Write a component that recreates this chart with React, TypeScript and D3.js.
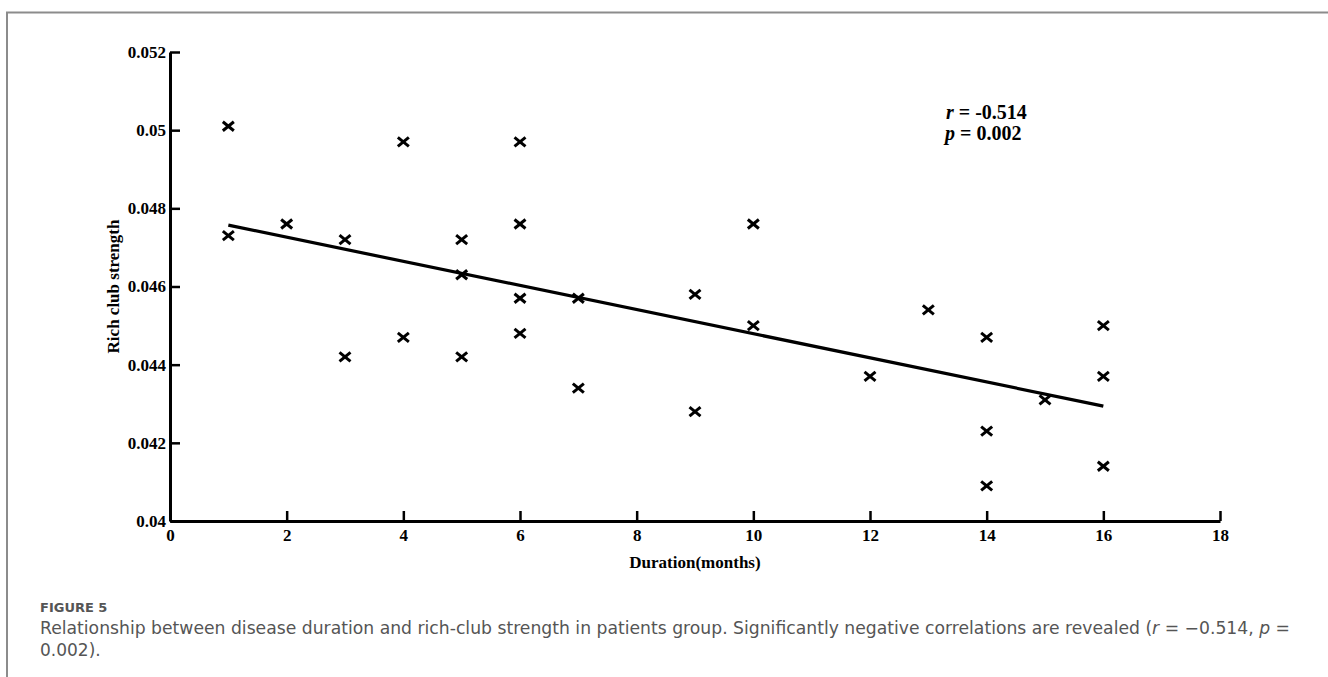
import React, { useEffect, useRef } from "react";
import * as d3 from "d3";

// months since onset, one entry per patient
const duration = [1, 1, 2, 3, 3, 4, 4, 5, 5, 5, 6, 6, 6, 6, 7, 7, 9, 9, 10, 10, 12, 13, 14, 14, 14, 15, 16, 16, 16];
const strength = [
  0.0501, 0.0473, 0.0476, 0.0472, 0.0442, 0.0497, 0.0447, 0.0472, 0.0463, 0.0442,
  0.0497, 0.0476, 0.0457, 0.0448, 0.0457, 0.0434, 0.0458, 0.0428, 0.0476, 0.045,
  0.0437, 0.0454, 0.0447, 0.0423, 0.0409, 0.0431, 0.045, 0.0437, 0.0414,
];
// fitted line
const fitX = [1, 16];
const fitY = [0.04757, 0.04294];

const xTicks = [0, 2, 4, 6, 8, 10, 12, 14, 16, 18];
const yTicks = [0.04, 0.042, 0.044, 0.046, 0.048, 0.05, 0.052];
const yTickLabels = ["0.04", "0.042", "0.044", "0.046", "0.048", "0.05", "0.052"];

const serif = "'Liberation Serif', 'Times New Roman', serif";
const sans = "'DejaVu Sans', 'Open Sans', sans-serif";

export default function App() {
  const xAxisRef = useRef<SVGGElement>(null);
  const yAxisRef = useRef<SVGGElement>(null);

  const x = d3.scaleLinear().domain([0, 18]).range([170, 1220]);
  const y = d3.scaleLinear().domain([0.04, 0.052]).range([521, 52]);

  useEffect(() => {
    const xa = d3
      .axisBottom(x)
      .tickValues(xTicks)
      .tickFormat(d3.format("d"))
      .tickSizeInner(-10)
      .tickSizeOuter(0)
      .tickPadding(8);
    const ya = d3
      .axisLeft(y)
      .tickValues(yTicks)
      .tickFormat((d, i) => yTickLabels[i])
      .tickSizeInner(-10)
      .tickSizeOuter(0)
      .tickPadding(4);

    const gx = d3.select(xAxisRef.current).call(xa);
    const gy = d3.select(yAxisRef.current).call(ya);
    [gx, gy].forEach(g => {
      g.selectAll("path").attr("stroke", "#000").attr("stroke-width", 3);
      g.selectAll("line").attr("stroke", "#000").attr("stroke-width", 2.5);
      g.selectAll("text")
        .attr("fill", "#000")
        .style("font-family", serif)
        .style("font-weight", "bold")
        .style("font-size", "17px");
    });
  }, []);

  const line = d3
    .line<number>()
    .x(d => x(d))
    .y((d, i) => y(fitY[i]));

  return (
    <svg width={1328} height={677} style={{ position: "absolute", left: 0, top: 0, background: "#fff" }}>
      <path d="M7,677V12.5H1328" fill="none" stroke="#8c8c8c" strokeWidth={2} />

      <g ref={yAxisRef} transform={`translate(${x(0)},0)`} />
      <g ref={xAxisRef} transform={`translate(0,${y(0.04)})`} />

      <path d={line(fitX) || ""} fill="none" stroke="#000" strokeWidth={3.2} />

      <g stroke="#000" strokeWidth={3}>
        {duration.map((d, i) => {
          const cx = x(d);
          const cy = y(strength[i]);
          return (
            <g key={i}>
              <line x1={cx - 5.5} y1={cy - 4.5} x2={cx + 5.5} y2={cy + 4.5} />
              <line x1={cx - 5.5} y1={cy + 4.5} x2={cx + 5.5} y2={cy - 4.5} />
            </g>
          );
        })}
      </g>

      <text
        transform={`translate(113,${(y(0.04) + y(0.052)) / 2}) rotate(-90)`}
        textAnchor="middle"
        dy="0.35em"
        fontFamily={serif}
        fontWeight="bold"
        fontSize={17}
      >
        Rich club strength
      </text>
      <text x={(x(0) + x(18)) / 2} y={568} textAnchor="middle" fontFamily={serif} fontWeight="bold" fontSize={17}>
        Duration(months)
      </text>

      <g fontFamily={serif} fontWeight="bold" fontSize={20}>
        <text x={946} y={119}>
          <tspan fontStyle="italic">r</tspan> = -0.514
        </text>
        <text x={945} y={140}>
          <tspan fontStyle="italic">p</tspan> = 0.002
        </text>
      </g>

      <g fontFamily={sans} fill="#555">
        <text x={40} y={612} fontSize={13} fontWeight="bold">
          FIGURE 5
        </text>
        <text x={40} y={634} fontSize={17} textLength={1250} lengthAdjust="spacingAndGlyphs">
          Relationship between disease duration and rich-club strength in patients group. Significantly negative
          correlations are revealed (<tspan fontStyle="italic">r</tspan> = −0.514, <tspan fontStyle="italic">p</tspan> =
        </text>
        <text x={40} y={656} fontSize={17}>
          0.002).
        </text>
      </g>
    </svg>
  );
}
